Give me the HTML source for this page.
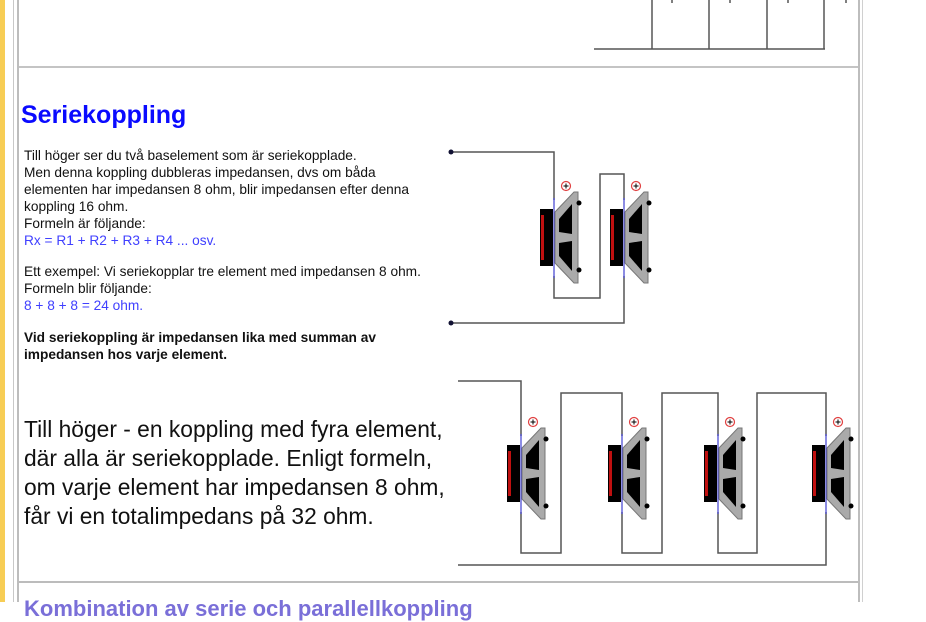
<!DOCTYPE html>
<html><head><meta charset="utf-8"><style>
html,body{margin:0;padding:0;background:#fff;}
body{width:926px;height:602px;position:relative;overflow:hidden;font-family:"Liberation Sans",Arial,sans-serif;}
.abs{position:absolute;}
.p{font-size:13.7px;line-height:17px;color:#111;white-space:nowrap;}
.blue{color:#4040ff;}
</style></head><body>
<div class="abs" style="left:0;top:0;width:5px;height:602px;background:#f7cd55"></div>
<div class="abs" style="left:13px;top:0;width:1px;height:602px;background:#c8c8c8"></div>
<div class="abs" style="left:17px;top:0;width:2px;height:602px;background:#bdbdbd"></div>
<div class="abs" style="left:858px;top:0;width:2px;height:602px;background:#bdbdbd"></div>
<div class="abs" style="left:862px;top:0;width:1px;height:602px;background:#d0d0d0"></div>
<div class="abs" style="left:19px;top:66px;width:839px;height:2px;background:#c4c4c4"></div>
<div class="abs" style="left:19px;top:581px;width:839px;height:2px;background:#bcbcbc"></div>

<div class="abs" style="left:21px;top:100px;font-size:25px;font-weight:bold;color:#0a0aff;line-height:30px;">Seriekoppling</div>

<div class="abs p" style="left:24px;top:147px;">Till höger ser du två baselement som är seriekopplade.<br>Men denna koppling dubbleras impedansen, dvs om båda<br>elementen har impedansen 8 ohm, blir impedansen efter denna<br>koppling 16 ohm.<br>Formeln är följande:<br><span class="blue">Rx = R1 + R2 + R3 + R4 ... osv.</span></div>
<div class="abs p" style="left:24px;top:263px;">Ett exempel: Vi seriekopplar tre element med impedansen 8 ohm.<br>Formeln blir följande:<br><span class="blue">8 + 8 + 8 = 24 ohm.</span></div>
<div class="abs p" style="left:24px;top:329px;font-weight:bold;">Vid seriekoppling är impedansen lika med summan av<br>impedansen hos varje element.</div>

<div class="abs" style="left:24px;top:415px;font-size:22.8px;line-height:29px;color:#111;white-space:nowrap;">Till höger - en koppling med fyra element,<br>där alla är seriekopplade. Enligt formeln,<br>om varje element har impedansen 8 ohm,<br>får vi en totalimpedans på 32 ohm.</div>

<div class="abs" style="left:24px;top:596px;font-size:22px;font-weight:bold;color:#7a6fd8;white-space:nowrap;">Kombination av serie och parallellkoppling</div>

<svg class="abs" style="left:0;top:0" width="926" height="602" viewBox="0 0 926 602">
<defs>
<g id="spk">
<line x1="0" y1="-39" x2="0" y2="41" stroke="#4040d0" stroke-width="1.2"/>
<rect x="-14" y="-28" width="13" height="57" fill="#000"/>
<rect x="-13" y="-22" width="3" height="45" fill="#c01010"/>
<polygon points="1,-25 20,-45 24,-45 24,46 20,46 1,26" fill="#aaa" stroke="#777" stroke-width="1"/>
<polygon points="5,-18 18,-33 18,-3 5,-5" fill="#000"/>
<polygon points="5,19 18,34 18,4 5,6" fill="#000"/>
<circle cx="25" cy="-34" r="2.5" fill="#000"/>
<circle cx="25" cy="33" r="2.5" fill="#000"/>
<circle cx="12" cy="-51" r="4.5" fill="#fff" stroke="#e04040" stroke-width="1.2"/>
<line x1="9.5" y1="-51" x2="14.5" y2="-51" stroke="#000" stroke-width="1"/>
<line x1="12" y1="-53.5" x2="12" y2="-48.5" stroke="#000" stroke-width="1"/>
</g>
</defs>
<g stroke="#555" stroke-width="1.5" fill="none">
<polyline points="594,49 825,49"/>
<line x1="652" y1="0" x2="652" y2="49"/><line x1="709" y1="0" x2="709" y2="49"/>
<line x1="767" y1="0" x2="767" y2="49"/><line x1="824" y1="0" x2="824" y2="49"/>
<line x1="672" y1="0" x2="672" y2="3"/><line x1="730" y1="0" x2="730" y2="3"/>
<line x1="788" y1="0" x2="788" y2="3"/><line x1="846" y1="0" x2="846" y2="3"/>
<polyline points="451,152 554,152 554,200"/>
<polyline points="554,276 554,298 600,298 600,174 624,174 624,200"/>
<polyline points="624,276 624,323 451,323"/>
<polyline points="458,381 521,381 521,436"/>
<polyline points="521,512 521,553 561,553 561,393 622,393 622,436"/>
<polyline points="622,512 622,553 662,553 662,393 718,393 718,436"/>
<polyline points="718,512 718,553 757,553 757,393 826,393 826,436"/>
<polyline points="826,512 826,565 458,565"/>
</g>
<circle cx="451" cy="152" r="2.5" fill="#113"/>
<circle cx="451" cy="323" r="2.5" fill="#113"/>
<use href="#spk" x="554" y="237"/>
<use href="#spk" x="624" y="237"/>
<use href="#spk" x="521" y="473"/>
<use href="#spk" x="622" y="473"/>
<use href="#spk" x="718" y="473"/>
<use href="#spk" x="826" y="473"/>
</svg>
</body></html>
